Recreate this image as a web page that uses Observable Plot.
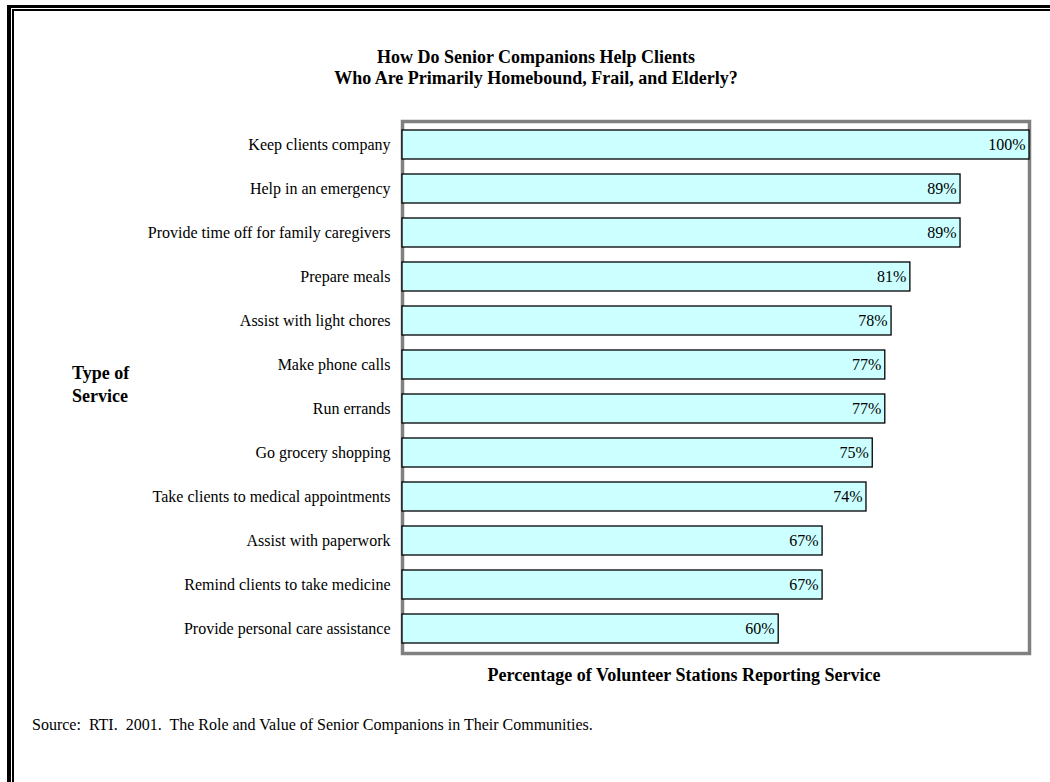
<!DOCTYPE html>
<html>
<head>
<meta charset="utf-8">
<script src="https://cdn.jsdelivr.net/npm/d3@7"></script>
<script src="https://cdn.jsdelivr.net/npm/@observablehq/plot@0.6"></script>
<style>
  html, body { margin: 0; padding: 0; background: #fff; }
  #page { position: relative; width: 1050px; height: 782px; overflow: hidden; font-family: "Liberation Serif", "Times New Roman", serif; color: #000; }
  .abs { position: absolute; white-space: pre; }
  .bold { font-weight: bold; font-size: 18px; }
  .line { position: absolute; background: #000; }
  #chart { position: absolute; left: 0; top: 0; }
</style>
</head>
<body>
<div id="page">
  <div class="line" style="left:7px; top:5px; width:1043px; height:2.5px;"></div>
  <div class="line" style="left:12px; top:9px; width:1038px; height:1.5px;"></div>
  <div class="line" style="left:7px; top:5px; width:3.5px; height:777px;"></div>
  <div class="line" style="left:12px; top:9px; width:2px; height:773px;"></div>
  <div id="chart"></div>
  <div class="abs bold" id="title" style="left:236px; width:600px; top:47px; line-height:21px; text-align:center;"></div>
  <div class="abs bold" id="ylabel" style="left:72px; top:362px; line-height:23px;"></div>
  <div class="abs bold" id="xlabel" style="left:384px; width:600px; top:664px; line-height:22px; text-align:center;"></div>
  <div class="abs" id="source" style="left:32px; top:715px; font-size:16px; line-height:20px;"></div>
</div>
<script>
const titleLines = ["How Do Senior Companions Help Clients", "Who Are Primarily Homebound, Frail, and Elderly?"];
const yTitleLines = ["Type of", "Service"];
const xTitle = "Percentage of Volunteer Stations Reporting Service";
const sourceText = "Source:  RTI.  2001.  The Role and Value of Senior Companions in Their Communities.";

const services = [
  "Keep clients company",
  "Help in an emergency",
  "Provide time off for family caregivers",
  "Prepare meals",
  "Assist with light chores",
  "Make phone calls",
  "Run errands",
  "Go grocery shopping",
  "Take clients to medical appointments",
  "Assist with paperwork",
  "Remind clients to take medicine",
  "Provide personal care assistance"
];
const values = [100, 89, 89, 81, 78, 77, 77, 75, 74, 67, 67, 60];

const data = services.map((s, i) => ({service: s, value: values[i]}));

document.getElementById("title").textContent = titleLines.join("\n");
document.getElementById("ylabel").textContent = yTitleLines.join("\n");
document.getElementById("xlabel").textContent = xTitle;
document.getElementById("source").textContent = sourceText;

const chart = Plot.plot({
  width: 1050,
  height: 782,
  marginLeft: 402,
  marginRight: 21,
  marginTop: 121,
  marginBottom: 129,
  style: {fontFamily: "'Liberation Serif', 'Times New Roman', serif", fontSize: "16px", color: "#000", background: "transparent", overflow: "visible"},
  x: {domain: [0, 100], axis: null},
  y: {domain: services, paddingInner: 0.34, paddingOuter: 0.17, label: null},
  marks: [
    Plot.frame({stroke: "#808080", strokeWidth: 3.5}),
    Plot.axisY({tickSize: 0, tickPadding: 12, label: null, fontSize: 16}),
    Plot.barX(data, {x: "value", y: "service", fill: "#CCFFFF", stroke: "#000", strokeWidth: 1.3}),
    Plot.text(data, {x: "value", y: "service", text: d => d.value + "%", textAnchor: "end", dx: -4, fontSize: 16, fill: "#000"})
  ]
});
document.getElementById("chart").appendChild(chart);
</script>
</body>
</html>
